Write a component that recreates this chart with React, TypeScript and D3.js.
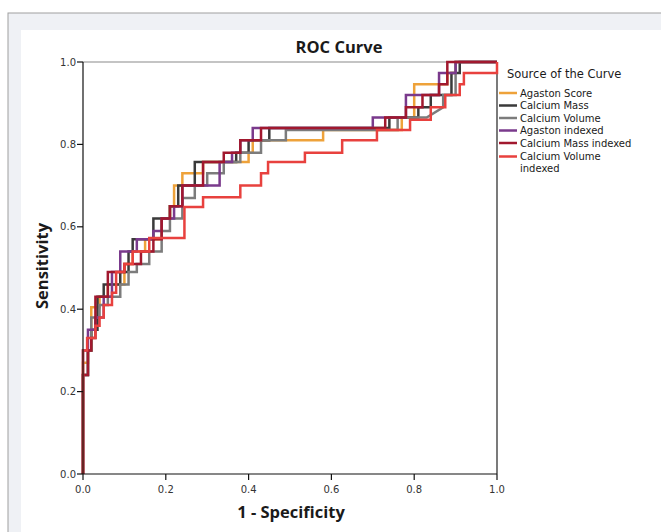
import React from "react";
import * as d3 from "d3";

type Pt = [number, number];

const seriesNames = [
  "Agaston Score",
  "Calcium Mass",
  "Calcium Volume",
  "Agaston indexed",
  "Calcium Mass indexed",
  "Calcium Volume indexed",
];

const seriesColors = ["#eea23a", "#3a3a3a", "#7c7c7c", "#7a3a8c", "#a1182e", "#e8413e"];

const agastonScore: Pt[] = [
  [0, 0], [0, 0.27], [0.012, 0.27], [0.012, 0.3], [0.02, 0.3], [0.02, 0.405], [0.04, 0.405], [0.04, 0.43],
  [0.06, 0.43], [0.06, 0.46], [0.1, 0.46], [0.1, 0.51], [0.12, 0.51], [0.12, 0.54], [0.15, 0.54], [0.15, 0.57],
  [0.19, 0.57], [0.19, 0.62], [0.21, 0.62], [0.21, 0.65], [0.22, 0.65], [0.22, 0.7], [0.24, 0.7], [0.24, 0.73],
  [0.29, 0.73], [0.29, 0.757], [0.4, 0.757], [0.4, 0.78], [0.41, 0.78], [0.41, 0.81], [0.58, 0.81], [0.58, 0.835],
  [0.77, 0.835], [0.77, 0.865], [0.8, 0.865], [0.8, 0.946], [0.88, 0.946], [0.88, 0.973], [0.9, 0.973], [0.9, 1], [1, 1],
];

const calciumMass: Pt[] = [
  [0, 0], [0, 0.24], [0.012, 0.24], [0.012, 0.3], [0.02, 0.3], [0.02, 0.35], [0.035, 0.35], [0.035, 0.43],
  [0.05, 0.43], [0.05, 0.46], [0.09, 0.46], [0.09, 0.49], [0.11, 0.49], [0.11, 0.54], [0.12, 0.54], [0.12, 0.57],
  [0.17, 0.57], [0.17, 0.62], [0.21, 0.62], [0.21, 0.65], [0.23, 0.65], [0.23, 0.7], [0.27, 0.7], [0.27, 0.757],
  [0.37, 0.757], [0.37, 0.78], [0.4, 0.78], [0.4, 0.81], [0.45, 0.81], [0.45, 0.84], [0.74, 0.84], [0.74, 0.865],
  [0.81, 0.865], [0.81, 0.89], [0.84, 0.89], [0.84, 0.92], [0.89, 0.92], [0.89, 0.973], [0.91, 0.973], [0.91, 1], [1, 1],
];

const calciumVolume: Pt[] = [
  [0, 0], [0, 0.24], [0.012, 0.24], [0.012, 0.3], [0.02, 0.3], [0.02, 0.38], [0.04, 0.38], [0.04, 0.41],
  [0.06, 0.41], [0.06, 0.43], [0.09, 0.43], [0.09, 0.46], [0.11, 0.46], [0.11, 0.49], [0.13, 0.49], [0.13, 0.51],
  [0.16, 0.51], [0.16, 0.54], [0.19, 0.54], [0.19, 0.59], [0.21, 0.59], [0.21, 0.62], [0.24, 0.62], [0.24, 0.67],
  [0.27, 0.67], [0.27, 0.7], [0.3, 0.7], [0.3, 0.73], [0.34, 0.73], [0.34, 0.757], [0.38, 0.757], [0.38, 0.78],
  [0.43, 0.78], [0.43, 0.81], [0.49, 0.81], [0.49, 0.835], [0.76, 0.835], [0.76, 0.865], [0.83, 0.865],
  [0.87, 0.89], [0.87, 0.92], [0.9, 0.92], [0.9, 1], [1, 1],
];

const agastonIndexed: Pt[] = [
  [0, 0], [0, 0.3], [0.012, 0.3], [0.012, 0.35], [0.03, 0.35], [0.03, 0.38], [0.05, 0.38], [0.05, 0.43],
  [0.07, 0.43], [0.07, 0.49], [0.09, 0.49], [0.09, 0.54], [0.13, 0.54], [0.13, 0.57], [0.17, 0.57], [0.17, 0.59],
  [0.19, 0.59], [0.19, 0.62], [0.22, 0.62], [0.22, 0.65], [0.24, 0.65], [0.24, 0.7], [0.33, 0.7], [0.33, 0.757],
  [0.36, 0.757], [0.36, 0.78], [0.38, 0.78], [0.38, 0.81], [0.41, 0.81], [0.41, 0.84], [0.7, 0.84], [0.7, 0.865],
  [0.78, 0.865], [0.78, 0.92], [0.86, 0.92], [0.86, 0.973], [0.9, 0.973], [0.9, 1], [1, 1],
];

const calciumMassIndexed: Pt[] = [
  [0, 0], [0, 0.24], [0.012, 0.24], [0.012, 0.3], [0.02, 0.3], [0.02, 0.33], [0.03, 0.33], [0.03, 0.43],
  [0.06, 0.43], [0.06, 0.49], [0.1, 0.49], [0.1, 0.51], [0.14, 0.51], [0.14, 0.54], [0.17, 0.54], [0.17, 0.57],
  [0.19, 0.57], [0.19, 0.62], [0.21, 0.62], [0.21, 0.65], [0.24, 0.65], [0.24, 0.7], [0.29, 0.7], [0.29, 0.757],
  [0.34, 0.757], [0.34, 0.78], [0.38, 0.78], [0.38, 0.81], [0.43, 0.81], [0.43, 0.84], [0.73, 0.84], [0.73, 0.865],
  [0.78, 0.865], [0.78, 0.89], [0.82, 0.89], [0.82, 0.92], [0.86, 0.92], [0.86, 0.946], [0.88, 0.946], [0.88, 1], [1, 1],
];

const calciumVolumeIndexed: Pt[] = [
  [0, 0], [0, 0.3], [0.01, 0.3], [0.01, 0.33], [0.03, 0.33], [0.03, 0.36], [0.04, 0.36], [0.04, 0.38],
  [0.05, 0.38], [0.05, 0.41], [0.07, 0.41], [0.07, 0.44], [0.08, 0.44], [0.08, 0.49], [0.1, 0.49], [0.1, 0.51],
  [0.12, 0.51], [0.12, 0.54], [0.16, 0.54], [0.16, 0.573], [0.245, 0.573], [0.245, 0.648], [0.29, 0.648],
  [0.29, 0.672], [0.38, 0.672], [0.38, 0.7], [0.43, 0.7], [0.43, 0.73], [0.447, 0.73], [0.447, 0.757],
  [0.536, 0.757], [0.536, 0.78], [0.626, 0.78], [0.626, 0.81], [0.71, 0.81], [0.71, 0.835], [0.79, 0.835],
  [0.79, 0.86], [0.84, 0.86], [0.84, 0.89], [0.875, 0.89], [0.875, 0.92], [0.91, 0.92], [0.91, 0.946],
  [0.92, 0.946], [0.92, 0.973], [1, 0.973], [1, 1],
];

const seriesData: Pt[][] = [
  agastonScore,
  calciumMass,
  calciumVolume,
  agastonIndexed,
  calciumMassIndexed,
  calciumVolumeIndexed,
];

const xTicks = [0, 0.2, 0.4, 0.6, 0.8, 1.0];
const yTicks = [0, 0.2, 0.4, 0.6, 0.8, 1.0];

const W = 661;
const H = 532;
const plot = { left: 83, right: 497, top: 62, bottom: 474 };

export default function App() {
  const x = d3.scaleLinear().domain([0, 1]).range([plot.left, plot.right]);
  const y = d3.scaleLinear().domain([0, 1]).range([plot.bottom, plot.top]);
  const line = d3
    .line<Pt>()
    .x((d) => x(d[0]))
    .y((d) => y(d[1]));

  const tickFont = "'DejaVu Sans', sans-serif";
  const mainFont = "'Open Sans', sans-serif";
  const legendRows = [93, 105.5, 118, 130.5, 143, 156.5];

  return (
    <svg
      width={W}
      height={H}
      style={{ position: "fixed", left: 0, top: 0, display: "block" }}
    >
      <rect x={0} y={0} width={W} height={H} fill="#ffffff" />
      <rect x={8} y={13} width={W} height={H} fill="#eff1f5" stroke="#a0a0a0" strokeWidth={1} />
      <rect x={21} y={30} width={W} height={H} fill="#ffffff" />

      <text
        x={339}
        y={53}
        textAnchor="middle"
        fontFamily={mainFont}
        fontWeight="bold"
        fontSize={16.5}
        fill="#1a1a1a"
      >
        ROC Curve
      </text>

      {/* frame */}
      <line x1={plot.left} x2={plot.right} y1={plot.top} y2={plot.top} stroke="#8a8a8a" strokeWidth={1.2} />
      <line x1={plot.right} x2={plot.right} y1={plot.top} y2={plot.bottom} stroke="#222" strokeWidth={1.2} />

      {/* curves */}
      {seriesData.map((d, i) => (
        <path
          key={seriesNames[i]}
          d={line(d) || ""}
          fill="none"
          stroke={seriesColors[i]}
          strokeWidth={2.5}
          strokeLinejoin="miter"
        />
      ))}

      {/* axes */}
      <line x1={plot.left} x2={plot.left} y1={plot.top} y2={plot.bottom} stroke="#111" strokeWidth={1.2} />
      <line x1={plot.left} x2={plot.right} y1={plot.bottom} y2={plot.bottom} stroke="#111" strokeWidth={1.2} />
      {yTicks.map((t) => (
        <g key={"y" + t}>
          <line x1={plot.left - 6} x2={plot.left} y1={y(t)} y2={y(t)} stroke="#111" strokeWidth={1.2} />
          <text
            x={plot.left - 7}
            y={y(t)}
            dy="0.35em"
            textAnchor="end"
            fontFamily={tickFont}
            fontSize={10}
            fill="#333"
          >
            {t.toFixed(1)}
          </text>
        </g>
      ))}
      {xTicks.map((t) => (
        <g key={"x" + t}>
          <line x1={x(t)} x2={x(t)} y1={plot.bottom} y2={plot.bottom + 6} stroke="#111" strokeWidth={1.2} />
          <text
            x={x(t)}
            y={plot.bottom + 19}
            textAnchor="middle"
            fontFamily={tickFont}
            fontSize={10}
            fill="#333"
          >
            {t.toFixed(1)}
          </text>
        </g>
      ))}

      <text
        x={291}
        y={518}
        textAnchor="middle"
        fontFamily={mainFont}
        fontWeight="bold"
        fontSize={16.5}
        fill="#1a1a1a"
      >
        1 - Specificity
      </text>
      <text
        transform={`translate(48, ${(plot.top + plot.bottom) / 2 - 2}) rotate(-90)`}
        textAnchor="middle"
        fontFamily={mainFont}
        fontWeight="bold"
        fontSize={16.5}
        fill="#1a1a1a"
      >
        Sensitivity
      </text>

      {/* legend */}
      <text x={507} y={78} fontFamily={tickFont} fontSize={11.5} fill="#1a1a1a">
        Source of the Curve
      </text>
      {seriesNames.map((name, i) => {
        const yy = legendRows[i];
        const two = name === "Calcium Volume indexed";
        return (
          <g key={"lg" + name}>
            <line x1={499} x2={517} y1={yy} y2={yy} stroke={seriesColors[i]} strokeWidth={2.5} />
            {two ? (
              <text x={520} y={yy} dy="0.35em" fontFamily={tickFont} fontSize={10} fill="#1a1a1a">
                <tspan x={520}>Calcium Volume</tspan>
                <tspan x={520} dy={11.8}>indexed</tspan>
              </text>
            ) : (
              <text x={520} y={yy} dy="0.35em" fontFamily={tickFont} fontSize={10} fill="#1a1a1a">
                {name}
              </text>
            )}
          </g>
        );
      })}
    </svg>
  );
}
